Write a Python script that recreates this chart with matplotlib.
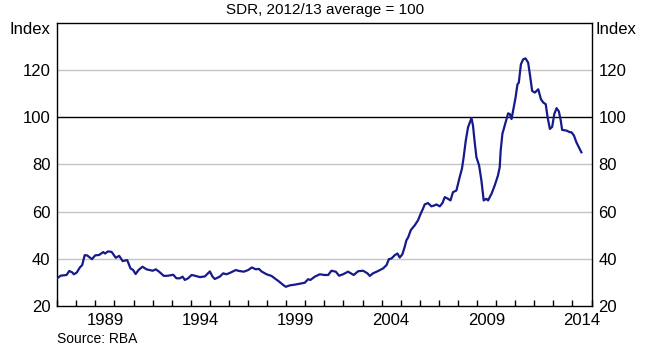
import numpy as np
import matplotlib
matplotlib.use("Agg")
from matplotlib import pyplot as plt, ticker

plt.rcParams['font.family'] = ['Liberation Sans', 'DejaVu Sans']

# SDR commodity price index (decimal year, index)
years = [1987.00, 1987.18, 1987.49, 1987.63, 1987.79, 1987.87, 1988.02, 1988.19, 1988.31, 1988.44,
         1988.57, 1988.82, 1988.99, 1989.20, 1989.41, 1989.51, 1989.66, 1989.85, 1990.07, 1990.25,
         1990.43, 1990.67, 1990.84, 1990.98, 1991.11, 1991.26, 1991.47, 1991.68, 1992.00, 1992.17,
         1992.34, 1992.59, 1992.81, 1993.08, 1993.25, 1993.43, 1993.57, 1993.69, 1993.86, 1994.04,
         1994.21, 1994.48, 1994.74, 1995.00, 1995.14, 1995.26, 1995.52, 1995.70, 1995.87, 1996.08,
         1996.36, 1996.53, 1996.78, 1997.01, 1997.20, 1997.41, 1997.57, 1997.71, 1997.97, 1998.23,
         1998.40, 1998.63, 1998.84, 1998.98, 1999.19, 1999.45, 1999.71, 1999.97, 2000.15, 2000.27,
         2000.50, 2000.76, 2001.02, 2001.20, 2001.37, 2001.60, 2001.77, 2001.98, 2002.24, 2002.54,
         2002.77, 2003.03, 2003.26, 2003.38, 2003.55, 2003.82, 2004.08, 2004.26, 2004.38, 2004.52,
         2004.69, 2004.83, 2004.95, 2005.09, 2005.21, 2005.30, 2005.39, 2005.53, 2005.74, 2005.91,
         2006.05, 2006.17, 2006.26, 2006.43, 2006.61, 2006.78, 2006.87, 2007.05, 2007.19, 2007.31,
         2007.48, 2007.61, 2007.74, 2007.92, 2008.09, 2008.21, 2008.30, 2008.41, 2008.53, 2008.71,
         2008.79, 2008.88, 2008.97, 2009.11, 2009.23, 2009.35, 2009.49, 2009.58, 2009.76, 2009.93,
         2010.10, 2010.19, 2010.24, 2010.33, 2010.45, 2010.54, 2010.63, 2010.72, 2010.81, 2010.89,
         2011.02, 2011.12, 2011.19, 2011.30, 2011.42, 2011.54, 2011.68, 2011.77, 2011.89, 2012.03,
         2012.21, 2012.35, 2012.47, 2012.60, 2012.70, 2012.82, 2012.94, 2013.05, 2013.17, 2013.29,
         2013.39, 2013.46, 2013.69, 2013.87, 2013.95, 2014.08, 2014.21, 2014.34, 2014.47]
index = [31.7, 32.8, 33.1, 34.8, 34.2, 33.4, 34.1, 36.3, 37.3, 41.5,
         41.4, 39.8, 41.4, 41.6, 42.8, 42.2, 43.1, 42.9, 40.4, 41.2,
         39.0, 39.4, 35.9, 35.2, 33.5, 35.2, 36.6, 35.5, 34.9, 35.5,
         34.5, 32.7, 32.8, 33.2, 31.7, 31.7, 32.4, 31.0, 31.7, 33.1,
         32.8, 32.2, 32.5, 34.6, 32.4, 31.4, 32.4, 33.8, 33.4, 34.1,
         35.2, 34.8, 34.5, 35.2, 36.3, 35.5, 35.7, 34.6, 33.4, 32.7,
         31.7, 30.3, 28.9, 28.1, 28.7, 29.0, 29.4, 29.8, 31.3, 31.0,
         32.4, 33.4, 33.1, 33.1, 34.9, 34.5, 32.8, 33.4, 34.5, 33.1,
         34.7, 34.9, 33.8, 32.7, 33.8, 34.8, 35.9, 37.3, 39.8, 40.1,
         41.5, 42.2, 40.5, 41.9, 45.0, 47.8, 49.0, 52.1, 54.2, 56.3,
         59.1, 61.2, 63.0, 63.6, 62.2, 62.6, 63.0, 62.2, 63.6, 66.1,
         65.4, 64.7, 68.2, 68.9, 74.5, 78.1, 83.0, 90.0, 95.7, 99.6,
         96.4, 89.3, 83.0, 79.5, 73.2, 64.7, 65.4, 64.7, 67.5, 71.1,
         75.3, 78.8, 85.8, 92.9, 96.4, 99.2, 101.6, 101.3, 99.2, 102.7,
         108.3, 113.9, 114.6, 122.4, 124.5, 124.9, 123.1, 118.2, 111.1, 110.4,
         111.8, 107.6, 106.2, 105.5, 99.9, 95.0, 95.9, 101.3, 103.8, 102.4,
         98.5, 94.6, 94.3, 93.6, 93.6, 92.2, 89.3, 87.2, 85.1]

label_years = [1989, 1994, 1999, 2004, 2009, 2014]
y_ticks = [20, 40, 60, 80, 100, 120]

fig = plt.figure(figsize=(6.5, 3.5), dpi=100)
ax = fig.add_axes([0.088, 0.126, 0.822, 0.809])

for v in [40, 60, 80, 120]:
    ax.axhline(v, color='#c4c4c4', linewidth=1.0, zorder=1)
ax.axhline(100, color='black', linewidth=1.0, zorder=1)

ax.plot(years, index, color='#161a8a', linewidth=1.6, zorder=3)

ax.set_xlim(1987, 2015)
ax.set_ylim(20, 140)

# labels sit mid-year, small inward ticks at year boundaries
ax.set_xticks([y + 0.5 for y in label_years])
ax.set_xticklabels([str(y) for y in label_years])
ax.xaxis.set_minor_locator(ticker.MultipleLocator(1))
ax.tick_params(axis='x', which='major', length=0, pad=5, labelsize=12)
ax.tick_params(axis='x', which='minor', direction='in', length=4, width=1, top=False)

ax.set_yticks(y_ticks)
ax.tick_params(axis='y', which='both', length=0, labelsize=12, left=True, right=True,
               labelleft=True, labelright=True)
ax.tick_params(axis='y', which='major', pad=5)

for s in ax.spines.values():
    s.set_linewidth(1.0)
    s.set_color('black')

ax.text(-0.012, 0.975, 'Index', transform=ax.transAxes, ha='right', va='center', fontsize=12)
ax.text(1.008, 0.975, 'Index', transform=ax.transAxes, ha='left', va='center', fontsize=12)

fig.text(0.5, 0.972, 'SDR, 2012/13 average = 100', ha='center', va='center', fontsize=11)
fig.text(0.087, 0.032, 'Source: RBA', ha='left', va='center', fontsize=10)

plt.savefig('out.png', dpi=100)
